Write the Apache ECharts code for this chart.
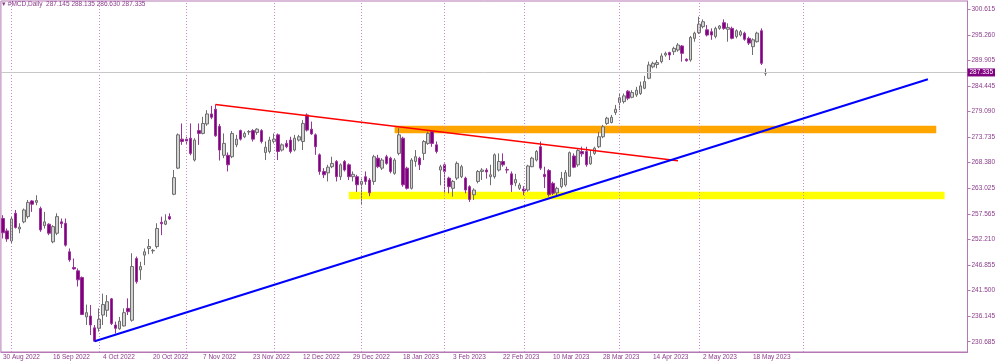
<!DOCTYPE html>
<html>
<head>
<meta charset="utf-8">
<script src="https://cdn.jsdelivr.net/npm/echarts@6/dist/echarts.min.js"></script>
<style>
  html, body {margin: 0; padding: 0; background: #fff;}
  #chart {width: 1000px; height: 364px;}
</style>
</head>
<body>
<div id="chart"></div>
<script>
// daily candles, [open, close, low, high], 30 Aug 2022 .. 23 May 2023
const candles = [
  [256.6, 253.6, 252.4, 257.3], [254.0, 252.3, 251.7, 254.5], [251.9, 256.5, 251.4, 257.0], [257.7, 254.7, 254.5, 258.4],
  [254.4, 254.8, 253.5, 255.6], [255.9, 258.4, 255.6, 258.7], [257.0, 260.0, 256.6, 260.5], [260.3, 259.6, 258.0, 260.5],
  [260.0, 260.4, 259.4, 261.5], [258.7, 254.2, 253.8, 259.1], [255.1, 255.9, 254.5, 258.0], [255.4, 253.5, 253.1, 255.6],
  [251.7, 254.9, 251.4, 255.2], [253.5, 257.0, 253.1, 257.7], [255.9, 255.5, 254.6, 256.6], [255.6, 251.0, 250.7, 256.6],
  [249.6, 247.9, 247.5, 250.3], [246.3, 246.0, 245.8, 248.2], [245.6, 243.7, 242.3, 246.1], [244.2, 236.4, 236.3, 244.4],
  [235.9, 236.8, 234.2, 238.5], [236.1, 234.2, 232.1, 238.4], [233.6, 230.8, 230.7, 234.2], [233.5, 235.4, 232.8, 237.7],
  [236.3, 238.5, 234.2, 240.8], [237.3, 239.1, 235.9, 240.5], [239.7, 234.5, 234.2, 239.9], [234.2, 233.5, 232.4, 234.9],
  [233.4, 235.0, 233.2, 235.9], [234.0, 236.8, 233.9, 237.7], [237.7, 237.0, 236.3, 239.8], [235.2, 246.5, 234.9, 249.3],
  [248.2, 243.3, 242.9, 248.6], [245.8, 246.5, 243.7, 247.5], [248.9, 249.6, 246.8, 250.3], [250.3, 250.7, 249.1, 252.3],
  [249.8, 249.9, 249.2, 250.2], [250.7, 254.5, 250.3, 255.6], [255.8, 255.5, 253.1, 257.0], [255.4, 256.1, 255.2, 257.5],
  [257.0, 256.5, 256.3, 257.7], [261.7, 265.2, 261.5, 266.8], [267.2, 274.2, 267.0, 274.5], [273.3, 272.8, 272.1, 276.6],
  [273.3, 272.9, 272.3, 273.8], [273.5, 270.3, 269.9, 276.6], [268.9, 273.1, 268.6, 273.5], [275.1, 274.5, 272.1, 276.6],
  [274.5, 276.6, 274.3, 278.0], [276.5, 278.6, 276.1, 279.4], [278.6, 277.9, 277.5, 280.3], [279.6, 274.0, 273.8, 280.6],
  [276.0, 271.0, 268.8, 276.5], [269.9, 272.4, 269.3, 274.5], [269.9, 267.9, 266.5, 270.5], [269.6, 274.5, 269.3, 275.0],
  [272.1, 273.3, 271.6, 274.2], [275.1, 273.3, 273.0, 275.3], [273.8, 274.5, 273.5, 274.9], [274.8, 274.9, 274.2, 275.2],
  [275.1, 273.3, 272.8, 275.4], [274.7, 275.4, 274.2, 275.6], [275.1, 272.8, 272.4, 275.4], [270.5, 271.6, 268.9, 272.8],
  [270.7, 273.1, 270.3, 273.8], [272.8, 273.3, 272.4, 274.5], [274.2, 270.7, 268.9, 274.5], [271.0, 272.1, 270.7, 272.4],
  [272.4, 271.7, 271.4, 273.1], [273.1, 270.7, 270.3, 273.8], [271.0, 273.5, 270.7, 274.2], [273.1, 273.8, 272.8, 274.2],
  [272.8, 276.6, 271.0, 277.3], [278.4, 275.2, 274.9, 278.7], [275.4, 274.4, 274.2, 277.0], [274.2, 271.7, 270.0, 274.5],
  [270.0, 266.5, 265.8, 270.3], [266.5, 265.8, 265.1, 267.2], [266.2, 267.4, 264.4, 267.9], [267.5, 268.2, 267.2, 269.6],
  [268.6, 265.4, 264.4, 268.9], [265.4, 267.9, 264.7, 268.2], [268.6, 266.8, 266.5, 268.9], [267.9, 265.4, 264.7, 268.2],
  [265.4, 265.9, 264.4, 266.5], [265.4, 263.7, 262.2, 265.8], [263.8, 264.4, 259.4, 265.0], [265.4, 264.4, 263.7, 266.5],
  [264.7, 262.0, 261.3, 265.1], [264.4, 269.6, 263.7, 270.0], [269.3, 267.5, 267.2, 270.0], [267.2, 268.9, 266.8, 269.3],
  [269.6, 268.2, 267.9, 270.0], [269.3, 266.5, 266.1, 269.6], [266.1, 268.9, 265.8, 269.3], [270.3, 274.2, 269.9, 275.6],
  [273.5, 263.7, 263.3, 273.8], [267.2, 262.95, 262.7, 267.5], [262.95, 268.9, 262.7, 269.3], [268.6, 269.6, 267.5, 271.0],
  [269.3, 267.9, 266.8, 269.6], [270.3, 272.8, 268.9, 273.1], [272.4, 274.5, 272.1, 274.9], [274.9, 272.4, 271.7, 275.2],
  [272.1, 270.7, 270.3, 272.8], [266.8, 267.5, 263.6, 267.9], [267.9, 266.5, 261.9, 268.2], [265.1, 263.3, 261.9, 265.4],
  [262.95, 264.4, 261.2, 264.7], [265.1, 268.2, 264.7, 268.6], [265.4, 267.5, 265.1, 267.9], [265.1, 262.6, 261.9, 265.4],
  [263.3, 260.6, 260.1, 263.6], [261.6, 262.6, 260.5, 262.95], [264.4, 266.5, 264.0, 266.8], [266.5, 266.8, 264.7, 267.2],
  [266.8, 266.4, 265.0, 267.2], [265.4, 265.8, 263.6, 267.9], [265.4, 270.0, 265.0, 270.3], [266.8, 268.6, 266.5, 270.3],
  [268.6, 267.9, 267.5, 270.3], [266.9, 266.8, 266.1, 267.5], [266.0, 263.7, 262.2, 266.5], [264.1, 264.8, 263.4, 266.0],
  [262.95, 263.65, 262.6, 264.1], [262.8, 262.4, 261.5, 263.4], [262.6, 267.65, 262.25, 267.9], [267.5, 269.3, 267.4, 269.6],
  [268.9, 270.7, 268.6, 271.0], [271.7, 267.2, 266.8, 272.8], [265.9, 265.4, 263.0, 267.5], [266.7, 261.6, 261.2, 267.0],
  [264.0, 261.9, 261.55, 264.35], [262.0, 262.95, 261.55, 263.3], [263.3, 265.05, 262.95, 266.4], [263.65, 266.25, 263.3, 266.8],
  [265.5, 270.45, 265.4, 270.7], [269.75, 267.4, 267.2, 270.3], [267.9, 270.9, 267.5, 271.2], [270.7, 270.2, 269.6, 271.7],
  [270.7, 267.9, 267.5, 271.7], [268.1, 269.6, 267.9, 271.0], [270.3, 271.4, 270.0, 271.7], [271.7, 273.8, 271.4, 274.8],
  [273.8, 275.9, 273.5, 276.3], [276.6, 277.7, 276.3, 278.0], [276.8, 277.9, 276.6, 278.4], [278.9, 279.6, 278.4, 280.5],
  [281.0, 282.0, 279.4, 282.9], [281.2, 282.4, 280.8, 282.9], [283.4, 281.9, 281.5, 283.6], [282.1, 283.1, 281.9, 283.6],
  [282.6, 283.6, 282.2, 284.3], [282.9, 284.5, 282.6, 285.4], [284.0, 285.4, 283.8, 286.6], [286.1, 288.9, 285.9, 289.6],
  [288.5, 289.25, 288.2, 289.6], [289.0, 289.4, 288.2, 289.95], [289.6, 290.8, 289.25, 291.35], [291.0, 291.35, 290.65, 291.7],
  [291.5, 291.0, 289.95, 291.7], [291.7, 292.4, 291.0, 292.75], [292.05, 293.1, 291.7, 293.5], [292.9, 291.35, 289.6, 293.1],
  [290.1, 289.8, 289.6, 290.3], [289.95, 294.7, 289.6, 295.0], [294.5, 295.6, 293.8, 295.9], [295.7, 297.5, 295.4, 299.06],
  [296.96, 298.0, 296.6, 298.5], [296.3, 295.2, 294.9, 297.3], [295.9, 295.2, 294.2, 296.6], [294.9, 296.6, 294.5, 296.96],
  [296.6, 297.1, 296.3, 297.3], [297.8, 296.6, 296.3, 298.5], [296.4, 296.8, 293.8, 297.66], [296.6, 294.5, 294.3, 296.96],
  [294.9, 296.1, 294.5, 296.4], [295.2, 295.9, 294.9, 296.26], [295.6, 294.3, 294.0, 295.9], [294.5, 293.5, 293.1, 294.86],
  [292.75, 294.2, 291.0, 294.5], [293.8, 295.6, 293.6, 295.9], [296.1, 289.25, 288.9, 296.6], [287.145, 287.335, 286.63, 288.135]
]

// bar slots incl. the empty space right of the last bar
const slotCount = 232
const categories = Array.from({length: slotCount}, (_, i) => String(i))

const xLabels = ['30 Aug 2022', '16 Sep 2022', '4 Oct 2022', '20 Oct 2022', '7 Nov 2022', '23 Nov 2022',
  '12 Dec 2022', '29 Dec 2022', '18 Jan 2023', '3 Feb 2023', '22 Feb 2023', '10 Mar 2023',
  '28 Mar 2023', '14 Apr 2023', '2 May 2023', '18 May 2023']
const labelEvery = 12

const yTicks = [230.685, 236.145, 241.500, 246.855, 252.210, 257.565, 263.025,
  268.380, 273.735, 279.090, 284.445, 289.905, 295.260, 300.615]

// month separators (bar index)
const monthStarts = [2, 23, 44, 65, 86, 106, 125, 148, 167, 192]

// drawn objects: [bar index, price]
const redTrend = [[51, 280.6], [162, 268.76]]
const blueTrend = [[22, 230.77], [222, 285.9]]
const orangeZone = [94, 224, 274.53, 276.13]
const yellowZone = [83, 226, 260.64, 262.24]

const purple = '#8b3d8b'
const frame = '#b479b4'
const font = 'Liberation Sans, Arial, sans-serif'

const last = candles[candles.length - 1]

const chart = echarts.init(document.getElementById('chart'), null, {renderer: 'canvas'})

const showLabel = (i) => i % labelEvery === 0 && i / labelEvery < xLabels.length

chart.setOption({
  animation: false,
  backgroundColor: '#fff',
  title: {
    text: '\u25BE #MCD,Daily  ' + [last[0], last[3], last[2], last[1]].map(v => v.toFixed(3)).join(' '),
    left: 2,
    top: 1,
    padding: 0,
    textStyle: {fontSize: 6.5, color: purple, fontWeight: 'normal', fontFamily: font}
  },
  grid: {
    left: 0.5, right: 32.5, top: 1, bottom: 12,
    show: true, borderColor: frame, borderWidth: 1, backgroundColor: '#fff'
  },
  xAxis: {
    type: 'category',
    data: categories,
    boundaryGap: true,
    axisLine: {lineStyle: {color: frame}},
    axisTick: {alignWithLabel: true, interval: showLabel, length: 3, lineStyle: {color: frame}},
    axisLabel: {
      interval: showLabel,
      formatter: (v, i) => xLabels[i / labelEvery] || '',
      align: 'left',
      margin: 2,
      fontSize: 6.5,
      color: purple,
      fontFamily: font
    },
    splitLine: {show: false}
  },
  yAxis: {
    type: 'value',
    position: 'right',
    min: 228.52,
    max: 302.36,
    axisLine: {show: true, lineStyle: {color: frame}},
    axisTick: {show: true, length: 3, customValues: yTicks, lineStyle: {color: frame}},
    axisLabel: {
      customValues: yTicks,
      formatter: v => v.toFixed(3),
      margin: 4,
      fontSize: 6.5,
      color: purple,
      fontFamily: font
    },
    splitLine: {show: false}
  },
  series: [
    {
      // background: zones and month separators
      type: 'line',
      data: [],
      z: 1,
      silent: true,
      markArea: {
        silent: true,
        data: [
          [{xAxis: orangeZone[0], yAxis: orangeZone[3], itemStyle: {color: '#ffa500', opacity: 1}},
            {xAxis: orangeZone[1], yAxis: orangeZone[2]}],
          [{xAxis: yellowZone[0], yAxis: yellowZone[3], itemStyle: {color: '#ffff00', opacity: 1}},
            {xAxis: yellowZone[1], yAxis: yellowZone[2]}]
        ]
      },
      markLine: {
        silent: true,
        symbol: 'none',
        label: {show: false},
        lineStyle: {color: '#c98ac9', type: [1, 2], width: 1},
        data: monthStarts.map(i => ({xAxis: i}))
      }
    },
    {
      // last price line
      type: 'line',
      data: [],
      z: 2,
      silent: true,
      markLine: {
        silent: true,
        symbol: 'none',
        lineStyle: {color: '#c8c8c8', type: 'solid', width: 1},
        label: {
          position: 'end',
          distance: 0,
          formatter: last[1].toFixed(3),
          backgroundColor: '#800080',
          color: '#fff',
          padding: [1, 2, 0, 2],
          fontSize: 6.5,
          fontFamily: font
        },
        data: [{yAxis: last[1]}]
      }
    },
    {
      type: 'candlestick',
      data: candles,
      z: 3,
      barWidth: 3,
      itemStyle: {
        color: '#d2d2d2',
        borderColor: '#6e6e6e',
        color0: '#800080',
        borderColor0: '#993399',
        borderWidth: 1
      }
    },
    {
      type: 'line',
      data: redTrend,
      z: 5,
      symbol: 'none',
      silent: true,
      lineStyle: {color: '#ff0000', width: 1.5}
    },
    {
      type: 'line',
      data: blueTrend,
      z: 5,
      symbol: 'none',
      silent: true,
      lineStyle: {color: '#0000ff', width: 2}
    }
  ]
})
</script>
</body>
</html>
